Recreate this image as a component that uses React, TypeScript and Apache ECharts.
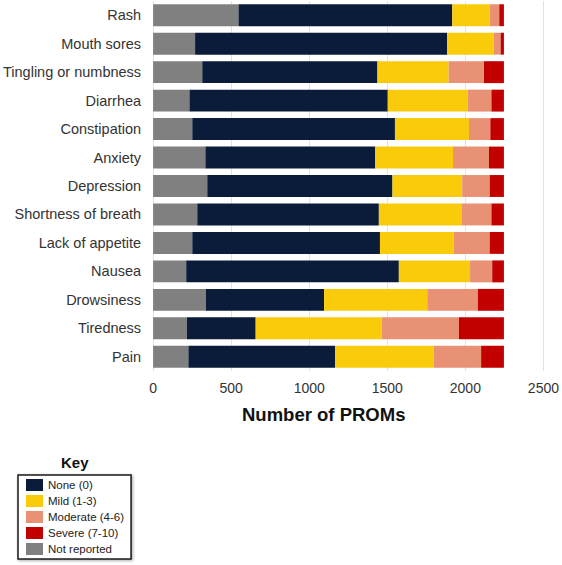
import React, { useEffect, useRef } from "react";
import * as echarts from "echarts";

const categories = [
  "Rash",
  "Mouth sores",
  "Tingling or numbness",
  "Diarrhea",
  "Constipation",
  "Anxiety",
  "Depression",
  "Shortness of breath",
  "Lack of appetite",
  "Nausea",
  "Drowsiness",
  "Tiredness",
  "Pain",
];

const notReported = [547, 269, 315, 233, 251, 335, 347, 283, 251, 212, 338, 217, 226];
const none0 = [1369, 1615, 1122, 1270, 1298, 1088, 1186, 1163, 1202, 1362, 757, 440, 940];
const mild = [240, 297, 456, 511, 474, 498, 447, 532, 472, 456, 661, 807, 631];
const moderate = [61, 45, 226, 153, 137, 230, 176, 189, 231, 142, 324, 495, 304];
const severe = [30, 21, 128, 80, 87, 96, 91, 80, 91, 75, 167, 288, 146];

const xTicks = [0, 500, 1000, 1500, 2000, 2500];

const FONT = "'Liberation Sans', Arial, Helvetica, sans-serif";

export default function App() {
  const ref = useRef<HTMLDivElement>(null);

  useEffect(() => {
    if (!ref.current) return;
    const chart = echarts.init(ref.current, undefined, { renderer: "svg" });
    const mk = (name: string, data: number[], color: string) => ({
      name,
      type: "bar",
      stack: "total",
      data,
      barCategoryGap: "23%",
      itemStyle: { color },
      emphasis: { disabled: true },
    });
    chart.setOption({
      animation: false,
      textStyle: { fontFamily: FONT },
      grid: { left: 153, right: 16, top: 1, bottom: 194, containLabel: false },
      xAxis: {
        type: "value",
        min: xTicks[0],
        max: xTicks[xTicks.length - 1],
        interval: 500,
        axisLine: { show: false },
        axisTick: { show: false },
        axisLabel: {
          color: "#333",
          fontSize: 14,
          margin: 10,
          fontFamily: FONT,
          formatter: (v: number) => String(v),
        },
        splitLine: { show: true, lineStyle: { color: "#e2e2e2", width: 1 } },
      },
      yAxis: {
        type: "category",
        data: categories,
        inverse: true,
        axisLine: { show: false },
        axisTick: { show: false },
        axisLabel: { color: "#333", fontSize: 14.5, margin: 12, fontFamily: FONT },
      },
      legend: {
        orient: "vertical",
        left: 18,
        top: 475,
        padding: [4, 7, 4, 8],
        itemWidth: 17,
        itemHeight: 12,
        itemGap: 4,
        borderColor: "#1a1a1a",
        borderWidth: 1.5,
        shadowColor: "rgba(0,0,0,0.35)",
        shadowBlur: 3,
        shadowOffsetX: 1,
        shadowOffsetY: 1,
        backgroundColor: "#fff",
        icon: "rect",
        selectedMode: false,
        textStyle: { color: "#222", fontSize: 11.5, fontFamily: FONT },
        data: ["None (0)", "Mild (1-3)", "Moderate (4-6)", "Severe (7-10)", "Not reported"],
      },
      graphic: [
        {
          type: "text",
          left: 242,
          top: 405,
          style: { text: "Number of PROMs", font: `bold 18.5px ${FONT}`, fill: "#111" },
        },
        {
          type: "text",
          left: 61,
          top: 455,
          style: { text: "Key", font: `bold 15px ${FONT}`, fill: "#111" },
        },
      ],
      series: [
        mk("Not reported", notReported, "#808080"),
        mk("None (0)", none0, "#0a1c39"),
        mk("Mild (1-3)", mild, "#f9cb0b"),
        mk("Moderate (4-6)", moderate, "#e99175"),
        mk("Severe (7-10)", severe, "#c20000"),
      ],
    });
    return () => chart.dispose();
  }, []);

  return (
    <div
      ref={ref}
      style={{ position: "fixed", left: 0, top: 0, width: 562, height: 565, background: "#fff" }}
    />
  );
}
